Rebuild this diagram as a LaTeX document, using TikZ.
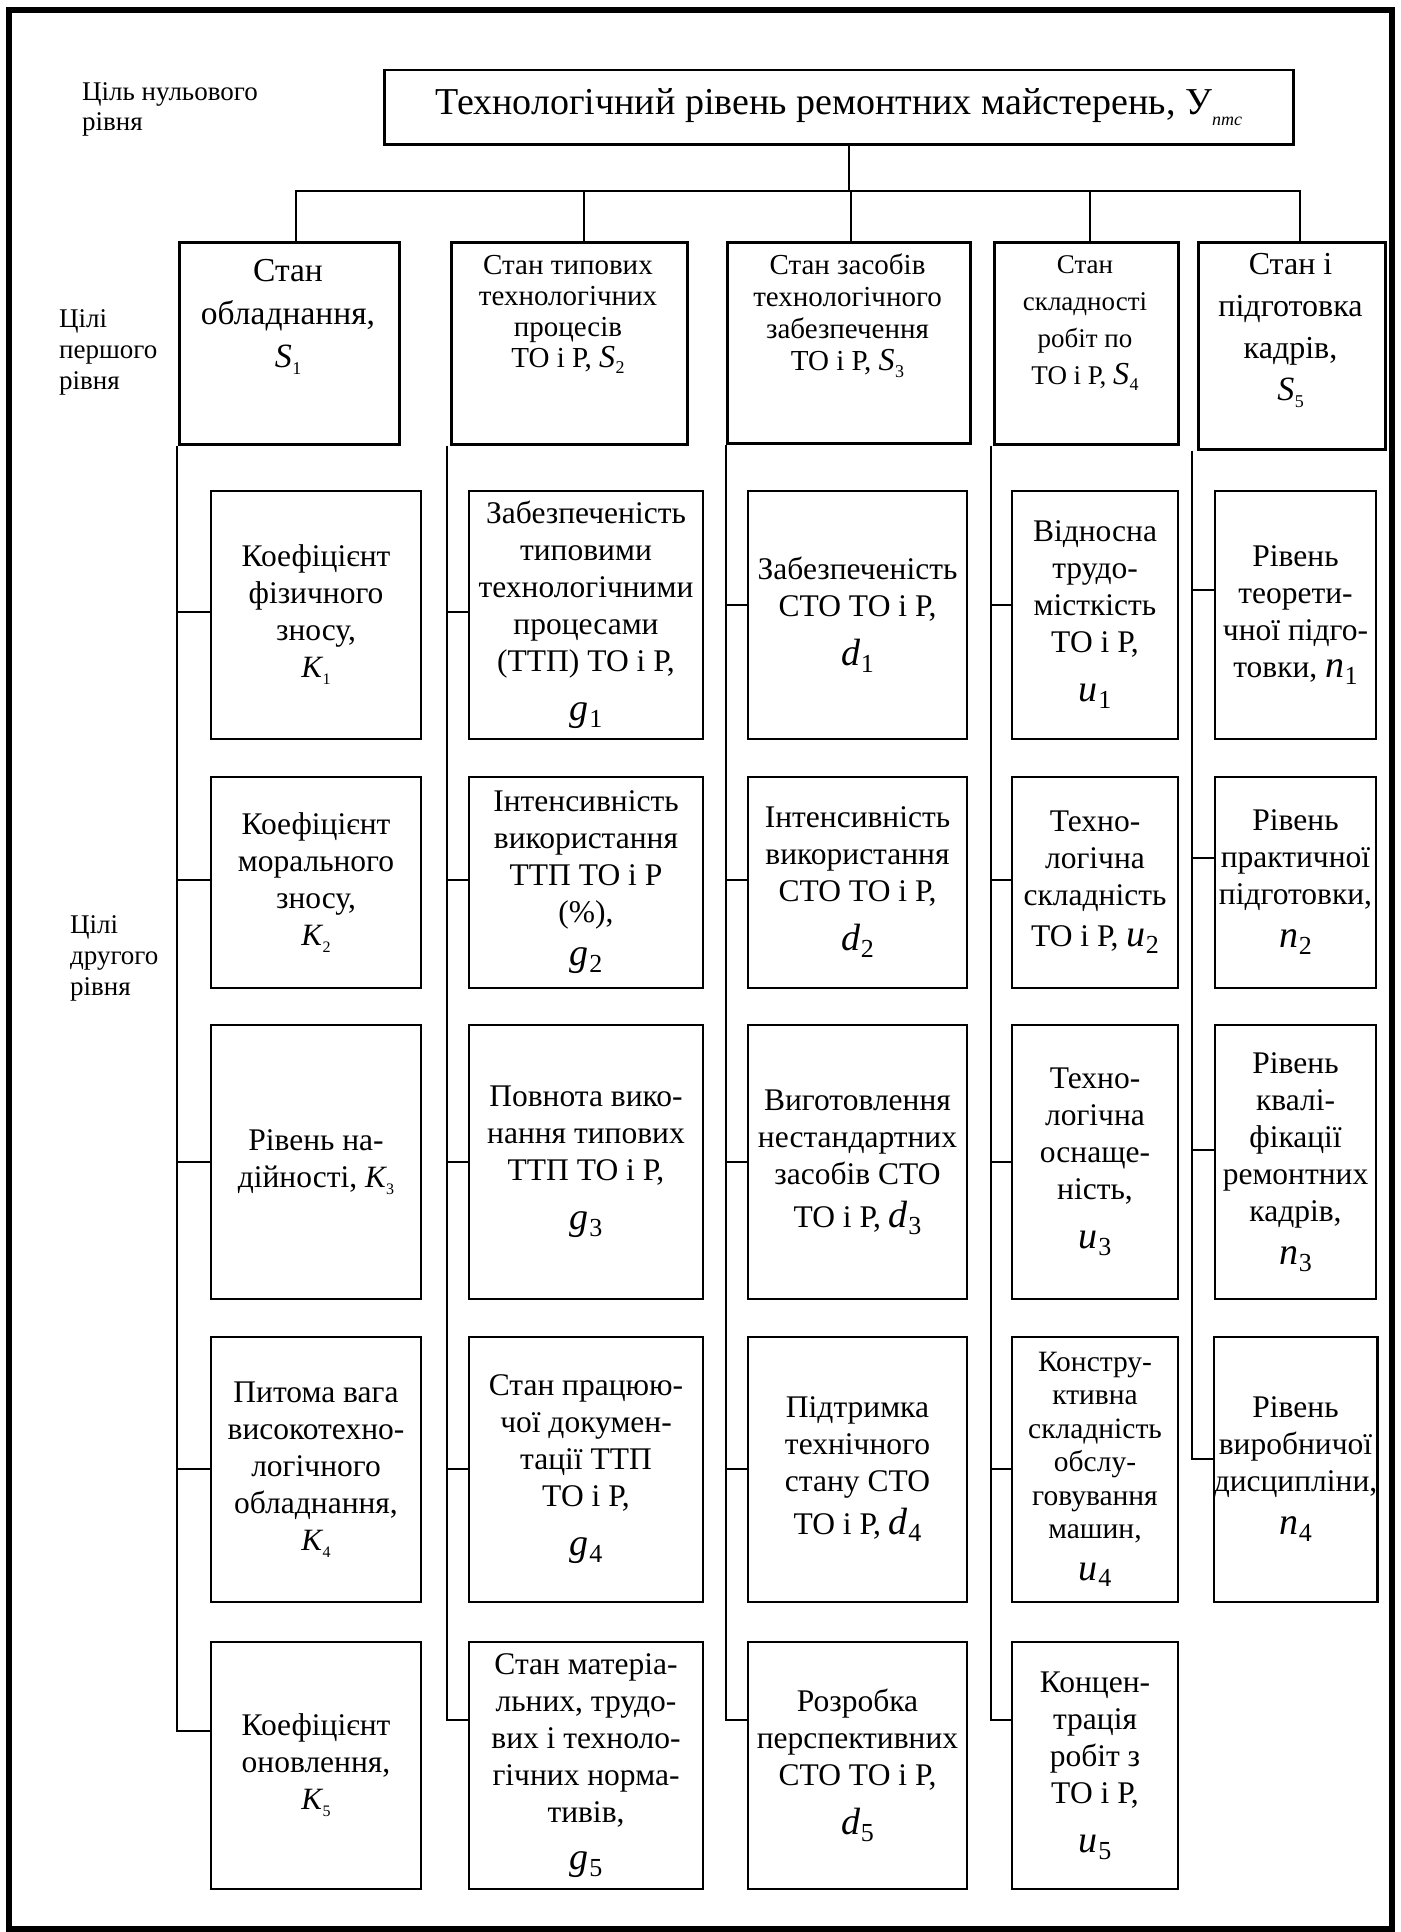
\documentclass[tikz,border=0pt]{standalone}
\usepackage{fontspec}
\setmainfont{Liberation Serif}
\usepackage{graphicx}
\newcommand\vsym[4]{{\fontsize{#3}{#3}\selectfont\itshape #1}\kern0.5pt\raisebox{-0.22em}{\fontsize{#4}{#4}\selectfont #2}}
\tikzset{
  frameline/.style={line width=6pt},
  lbox/.style={draw, line width=2.5pt, inner sep=0pt, anchor=north west},
  ltext/.style={align=center, inner sep=0pt, anchor=north},
  sidelbl/.style={align=left, inner sep=0pt, anchor=north west},
  kbox/.style={draw, line width=2.5pt, inner sep=0pt, align=center, font=\fontsize{31.5}{37}\selectfont},
  conn/.style={line width=2pt},
}
\begin{document}
\begin{tikzpicture}[x=1pt,y=-1pt]
\useasboundingbox (0,0) rectangle (1400,1932);
\draw[frameline] (9,10) rectangle (1392,1929);

% side labels
\node[sidelbl, font=\fontsize{27}{30}\selectfont] (L0) at (82,82) {Ціль нульового\\рівня};
\node[sidelbl, font=\fontsize{27}{31}\selectfont] (L1) at (59,309) {Цілі\\першого\\рівня};
\node[sidelbl, font=\fontsize{27}{31}\selectfont] (L2) at (70,915) {Цілі\\другого\\рівня};

% title
\node[lbox, minimum width=909pt, minimum height=74pt, font=\fontsize{38}{44}\selectfont] (T) at (383,69)
  {Технологічний рівень ремонтних майстерень, У\raisebox{-0.3em}{\fontsize{18}{18}\selectfont\itshape птс}};

% level 1 boxes
\node[lbox, minimum width=220pt, minimum height=202pt] (S1) at (178,241) {};
\node[lbox, minimum width=236pt, minimum height=202pt] (S2) at (450,241) {};
\node[lbox, minimum width=243pt, minimum height=201pt] (S3) at (726,241) {};
\node[lbox, minimum width=184pt, minimum height=202pt] (S4) at (993,241) {};
\node[lbox, minimum width=187pt, minimum height=207pt] (S5) at (1197,241) {};

\node[ltext, font=\fontsize{33.5}{43}\selectfont] (S1t) at (288,259) {Стан\\обладнання,\\\vsym{S}{1}{34}{18}};
\node[ltext, font=\fontsize{29}{31}\selectfont] (S2t) at (568,255) {Стан типових\\технологічних\\процесів\\ТО і Р, \vsym{S}{2}{32}{18}};
\node[ltext, font=\fontsize{29}{32}\selectfont] (S3t) at (847.5,254) {Стан засобів\\технологічного\\забезпечення\\ТО і Р, \vsym{S}{3}{32}{18}};
\node[ltext, font=\fontsize{27}{37}\selectfont] (S4t) at (1085,255) {Стан\\складності\\робіт по\\ТО і Р, \vsym{S}{4}{32}{18}};
\node[ltext, font=\fontsize{32}{42}\selectfont] (S5t) at (1290.5,253) {Стан і\\підготовка\\кадрів,\\\vsym{S}{5}{34}{18}};

% level 1 connectors
\coordinate (bus) at (0,191);
\draw[conn] ([xshift=10pt]T.south) -- ([xshift=10pt]T.south |- bus);
\draw[conn] ([xshift=7pt]S1.north) -- ([xshift=7pt]S1.north |- bus) -- ([xshift=8pt]S5.north |- bus) -- ([xshift=8pt]S5.north);
\draw[conn] ([xshift=15pt]S2.north) -- ([xshift=15pt]S2.north |- bus);
\draw[conn] ([xshift=2pt]S3.north) -- ([xshift=2pt]S3.north |- bus);
\draw[conn] ([xshift=4pt]S4.north) -- ([xshift=4pt]S4.north |- bus);

% column K
\node[kbox, minimum width=210pt, minimum height=248pt] (K1) at (316,615) {Коефіцієнт\\фізичного\\зносу,\\\vsym{K}{1}{31}{16}};
\node[kbox, minimum width=210pt, minimum height=211pt] (K2) at (316,882.5) {Коефіцієнт\\морального\\зносу,\\\vsym{K}{2}{31}{16}};
\node[kbox, minimum width=210pt, minimum height=274pt] (K3) at (316,1162) {Рівень на-\\дійності, \vsym{K}{3}{31}{16}};
\node[kbox, minimum width=210pt, minimum height=265pt] (K4) at (316,1469.5) {Питома вага\\високотехно-\\логічного\\обладнання,\\\vsym{K}{4}{31}{16}};
\node[kbox, minimum width=210pt, minimum height=247pt] (K5) at (316,1765.5) {Коефіцієнт\\оновлення,\\\vsym{K}{5}{31}{16}};

% column g
\node[kbox, minimum width=234pt, minimum height=248pt] (G1) at (586,615) {Забезпеченість\\типовими\\технологічними\\процесами\\(ТТП) ТО і Р,\\[12pt]\vsym{g}{1}{38}{26}};
\node[kbox, minimum width=234pt, minimum height=211pt] (G2) at (586,882.5) {Інтенсивність\\використання\\ТТП ТО і Р\\(\%),\\[6pt]\vsym{g}{2}{38}{26}};
\node[kbox, minimum width=234pt, minimum height=274pt] (G3) at (586,1162) {Повнота вико-\\нання типових\\ТТП ТО і Р,\\[12pt]\vsym{g}{3}{38}{26}};
\node[kbox, minimum width=234pt, minimum height=265pt] (G4) at (586,1469.5) {Стан працюю-\\чої докумен-\\тації ТТП\\ТО і Р,\\[12pt]\vsym{g}{4}{38}{26}};
\node[kbox, minimum width=234pt, minimum height=247pt] (G5) at (586,1765.5) {Стан матеріа-\\льних, трудо-\\вих і техноло-\\гічних норма-\\тивів,\\[10pt]\vsym{g}{5}{38}{26}};

% column d
\node[kbox, minimum width=219pt, minimum height=248pt] (D1) at (857.5,615) {Забезпеченість\\СТО ТО і Р,\\[12pt]\vsym{d}{1}{38}{26}};
\node[kbox, minimum width=219pt, minimum height=211pt] (D2) at (857.5,882.5) {Інтенсивність\\використання\\СТО ТО і Р,\\[12pt]\vsym{d}{2}{38}{26}};
\node[kbox, minimum width=219pt, minimum height=274pt] (D3) at (857.5,1162) {Виготовлення\\нестандартних\\засобів СТО\\[6pt]ТО і Р, \vsym{d}{3}{38}{26}};
\node[kbox, minimum width=219pt, minimum height=265pt] (D4) at (857.5,1469.5) {Підтримка\\технічного\\стану СТО\\[6pt]ТО і Р, \vsym{d}{4}{38}{26}};
\node[kbox, minimum width=219pt, minimum height=247pt] (D5) at (857.5,1765.5) {Розробка\\перспективних\\СТО ТО і Р,\\[12pt]\vsym{d}{5}{38}{26}};

% column u
\node[kbox, minimum width=166pt, minimum height=248pt] (U1) at (1095,615) {Відносна\\трудо-\\місткість\\ТО і Р,\\[12pt]\vsym{u}{1}{38}{26}};
\node[kbox, minimum width=166pt, minimum height=211pt] (U2) at (1095,882.5) {Техно-\\логічна\\складність\\[4pt]ТО і Р, \vsym{u}{2}{38}{26}};
\node[kbox, minimum width=166pt, minimum height=274pt] (U3) at (1095,1162) {Техно-\\логічна\\оснаще-\\ність,\\[12pt]\vsym{u}{3}{38}{26}};
\node[kbox, minimum width=166pt, minimum height=265pt, font=\fontsize{29.5}{33.5}\selectfont] (U4) at (1095,1469.5) {Констру-\\ктивна\\складність\\обслу-\\говування\\машин,\\[8pt]\vsym{u}{4}{38}{26}};
\node[kbox, minimum width=166pt, minimum height=247pt] (U5) at (1095,1765.5) {Концен-\\трація\\робіт з\\ТО і Р,\\[12pt]\vsym{u}{5}{38}{26}};

% column n
\node[kbox, minimum width=161pt, minimum height=248pt] (N1) at (1295.5,615) {Рівень\\теорети-\\чної підго-\\товки, \vsym{n}{1}{38}{26}};
\node[kbox, minimum width=161pt, minimum height=211pt] (N2) at (1295.5,882.5) {Рівень\\практичної\\підготовки,\\[6pt]\vsym{n}{2}{38}{26}};
\node[kbox, minimum width=161pt, minimum height=274pt] (N3) at (1295.5,1162) {Рівень\\квалі-\\фікації\\ремонтних\\кадрів,\\[6pt]\vsym{n}{3}{38}{26}};
\node[kbox, minimum width=161pt, minimum height=265pt] (N4) at (1295.5,1469.5) {Рівень\\виробничої\\дисципліни,\\[6pt]\vsym{n}{4}{38}{26}};

% trunk tops
\coordinate (t1) at ([xshift=-1pt]S1.south west);
\coordinate (t2) at ([xshift=-3pt]S2.south west);
\coordinate (t3) at (S3.south west);
\coordinate (t4) at ([xshift=-2pt]S4.south west);
\coordinate (t5) at ([xshift=-5pt]S5.south west);

% trunks with last stub
\draw[conn] (t1) |- ([yshift=35pt]K5.west);
\draw[conn] (t2) |- ([yshift=46pt]G5.west);
\draw[conn] (t3) |- ([yshift=46pt]D5.west);
\draw[conn] (t4) |- ([yshift=46pt]U5.west);
\draw[conn] (t5) |- ([yshift=11pt]N4.west);

% stubs
\foreach \b/\dy in {K1/3,K2/3,K3/0,K4/1} \draw[conn] ([yshift=\dy pt]\b.west) -- ([yshift=\dy pt]\b.west -| t1);
\foreach \b/\dy in {G1/3,G2/3,G3/0,G4/1} \draw[conn] ([yshift=\dy pt]\b.west) -- ([yshift=\dy pt]\b.west -| t2);
\foreach \b/\dy in {D1/10,D2/3,D3/0,D4/1} \draw[conn] ([yshift=\dy pt]\b.west) -- ([yshift=\dy pt]\b.west -| t3);
\foreach \b/\dy in {U1/10,U2/3,U3/0,U4/1} \draw[conn] ([yshift=\dy pt]\b.west) -- ([yshift=\dy pt]\b.west -| t4);
\foreach \b/\dy in {N1/25,N2/25,N3/12} \draw[conn] ([yshift=\dy pt]\b.west) -- ([yshift=\dy pt]\b.west -| t5);
\end{tikzpicture}
\end{document}
